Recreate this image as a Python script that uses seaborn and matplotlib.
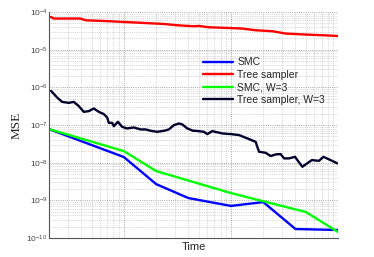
import matplotlib
matplotlib.use("Agg")

import numpy as np
import pandas as pd
import matplotlib.pyplot as plt
import seaborn as sns
from matplotlib.ticker import FixedLocator, NullFormatter, LogFormatterSciNotation

# values (log-log axes)
smc_t = [2, 10, 20, 40, 100, 200, 400, 1000]
smc_mse = [7.8e-8, 1.41e-8, 2.7e-9, 1.15e-9, 7.1e-10, 9.0e-10, 1.73e-10, 1.63e-10]

smcw_t = [2, 10, 20, 100, 500, 1000]
smcw_mse = [7.8e-8, 2.03e-8, 6.0e-9, 1.56e-9, 4.9e-10, 1.44e-10]

tree_t = [2.08, 2.22, 2.75, 3.94, 4.39, 6.5, 10, 15.4, 23.7, 31.5, 44.4, 50.2,
          62.3, 95.8, 127, 170, 243, 324, 499, 713, 985]
tree_mse = [7.41e-5, 6.73e-5, 6.73e-5, 6.73e-5, 6.05e-5, 5.81e-5, 5.46e-5, 5.14e-5,
            4.83e-5, 4.47e-5, 4.20e-5, 4.28e-5, 3.95e-5, 3.78e-5, 3.65e-5, 3.29e-5,
            3.10e-5, 2.69e-5, 2.53e-5, 2.43e-5, 2.32e-5]

treew_t = [2.09, 2.38, 2.65, 3.06, 3.41, 3.80, 4.23, 4.71, 5.24, 5.84, 6.50, 6.98,
           7.24, 7.78, 8.06, 8.79, 9.64, 10.7, 12.4, 14.3, 16.0, 17.8, 20.5, 23.7,
           26.3, 29.3, 32.7, 35.1, 39.1, 44.4, 46.8, 55.9, 60.1, 66.9, 82.9, 100,
           119, 142, 170, 176, 183, 211, 235, 262, 291, 313, 348, 396, 417, 464,
           499, 568, 664, 729, 824, 985]
treew_mse = [8.07e-7, 5.40e-7, 4.12e-7, 3.88e-7, 4.12e-7, 3.17e-7, 2.24e-7, 2.34e-7,
             2.75e-7, 2.24e-7, 1.95e-7, 1.59e-7, 1.14e-7, 1.14e-7, 9.35e-8, 1.22e-7,
             8.95e-8, 8.13e-8, 8.63e-8, 7.64e-8, 7.64e-8, 7.02e-8, 6.61e-8, 7.02e-8,
             7.64e-8, 9.93e-8, 1.10e-7, 1.04e-7, 8.13e-8, 7.02e-8, 7.02e-8, 6.61e-8,
             5.74e-8, 6.89e-8, 5.98e-8, 5.74e-8, 5.40e-8, 4.42e-8, 3.58e-8, 2.64e-8,
             1.95e-8, 1.83e-8, 1.50e-8, 1.66e-8, 1.69e-8, 1.30e-8, 1.30e-8, 1.43e-8,
             1.17e-8, 7.78e-9, 9.02e-9, 1.17e-8, 1.12e-8, 1.43e-8, 1.22e-8, 9.57e-9]

names = ["SMC", "Tree sampler", "SMC, W=3", "Tree sampler, W=3"]
colors = ["#0000ff", "#ff0000", "#00ff00", "#00002b"]

df = pd.concat([
    pd.DataFrame({"Time": smc_t, "MSE": smc_mse, "method": names[0]}),
    pd.DataFrame({"Time": tree_t, "MSE": tree_mse, "method": names[1]}),
    pd.DataFrame({"Time": smcw_t, "MSE": smcw_mse, "method": names[2]}),
    pd.DataFrame({"Time": treew_t, "MSE": treew_mse, "method": names[3]}),
])

sns.set_style("white")
plt.rcParams['font.family'] = ['Liberation Sans', 'DejaVu Sans']
plt.rcParams['mathtext.fontset'] = 'custom'
plt.rcParams['mathtext.rm'] = 'Liberation Sans'
plt.rcParams['mathtext.it'] = 'Liberation Sans'

fig = plt.figure(figsize=(3.74, 2.57), dpi=100)
ax = fig.add_axes([0.131, 0.074, 0.773, 0.879])

sns.lineplot(data=df, x="Time", y="MSE", hue="method", hue_order=names,
             palette=colors, estimator=None, sort=False, linewidth=1.7, ax=ax)

ax.set_xscale("log")
ax.set_yscale("log")
ax.set_xlim(2, 1000)
ax.set_ylim(1e-10, 1e-4)

# ticks only inside the view range
decades_y = [10.0 ** e for e in range(-10, -3)]
minor_y = [m * d for d in decades_y[:-1] for m in range(2, 10)]
ax.yaxis.set_major_locator(FixedLocator(decades_y))
ax.yaxis.set_minor_locator(FixedLocator(minor_y))
ax.yaxis.set_major_formatter(LogFormatterSciNotation())
ax.yaxis.set_minor_formatter(NullFormatter())

major_x = [10, 100, 1000]
minor_x = [m * d for d in [1, 10, 100] for m in range(2, 10) if m * d >= 2]
ax.xaxis.set_major_locator(FixedLocator(major_x))
ax.xaxis.set_minor_locator(FixedLocator(minor_x))
ax.xaxis.set_major_formatter(NullFormatter())
ax.xaxis.set_minor_formatter(NullFormatter())
ax.tick_params(axis="x", which="both", labelbottom=False)

ax.grid(True, which="major", linestyle=":", color="#8a8a8a", linewidth=0.6)
ax.grid(True, which="minor", linestyle=":", color="#b4b4b4", linewidth=0.5)

ax.tick_params(which="both", direction="in", colors="#444444", labelsize=6, pad=1)
ax.tick_params(which="major", length=3, width=0.6)
ax.tick_params(which="minor", length=1.5, width=0.5)

for s in ["top", "right"]:
    ax.spines[s].set_visible(False)
for s in ["left", "bottom"]:
    ax.spines[s].set_color("#555555")
    ax.spines[s].set_linewidth(0.8)

ax.set_xlabel("Time", fontsize=8, labelpad=3)
ax.set_ylabel("MSE", fontsize=9.5, family=["Liberation Serif"], labelpad=3)

leg = ax.legend(loc="upper left", bbox_to_anchor=(0.533, 0.80), frameon=False,
                fontsize=7.5, handlelength=2.9, handletextpad=0.4,
                labelspacing=0.25, borderpad=0, borderaxespad=0)

fig.savefig("out.png", dpi=100)
